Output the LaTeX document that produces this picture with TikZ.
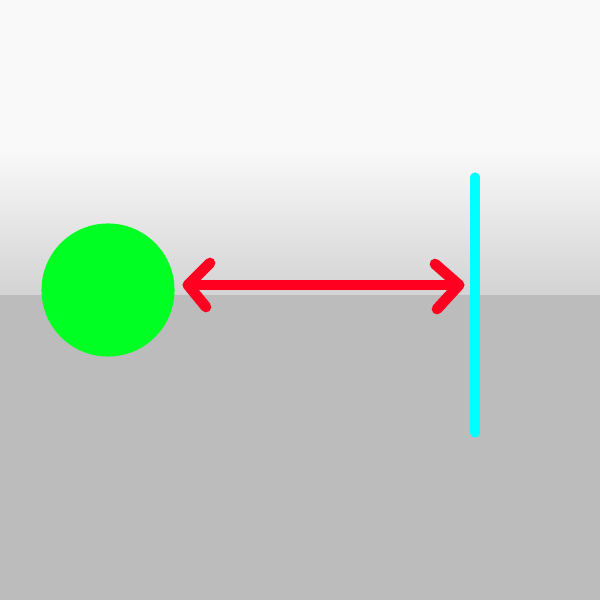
\documentclass[tikz,border=0pt]{standalone}
\usetikzlibrary{calc}
\definecolor{bgtop}{HTML}{F9F9F9}
\definecolor{bgmid}{HTML}{D3D3D3}
\definecolor{floor}{HTML}{BCBCBC}
\definecolor{ballgreen}{HTML}{00FF22}
\definecolor{arrowred}{HTML}{FF0020}
\definecolor{wallcyan}{HTML}{00FFFF}
\tikzset{
  ball/.style={circle, fill=ballgreen, minimum size=1.33cm, inner sep=0pt},
  redline/.style={draw=arrowred, line width=3.05pt, line cap=round, line join=round},
  wallline/.style={draw=wallcyan, line width=2.6pt, line cap=round}
}
\begin{document}
\begin{tikzpicture}[x=0.01cm, y=-0.01cm]
\useasboundingbox (0,0) rectangle (600,600);
\fill[bgtop] (0,0) rectangle (600,150);
\shade[top color=bgtop, bottom color=bgmid] (0,149) rectangle (600,295);
\fill[floor] (0,295) rectangle (600,600);
\node[ball] (ball) at (108,290) {};
\coordinate (wtop) at (475,177);
\coordinate (wbot) at (475,433);
\draw[wallline] (wtop) -- (wbot);
\coordinate (L) at (188,285);
\coordinate (R) at (459,285);
\coordinate (L1) at (210,263);
\coordinate (L2) at (206,307);
\coordinate (R1) at (435,264);
\coordinate (R2) at (437,309);
\draw[redline] (L) -- (R);
\draw[redline] (L1) -- (L) -- (L2);
\draw[redline] (R1) -- (R) -- (R2);
\end{tikzpicture}
\end{document}
